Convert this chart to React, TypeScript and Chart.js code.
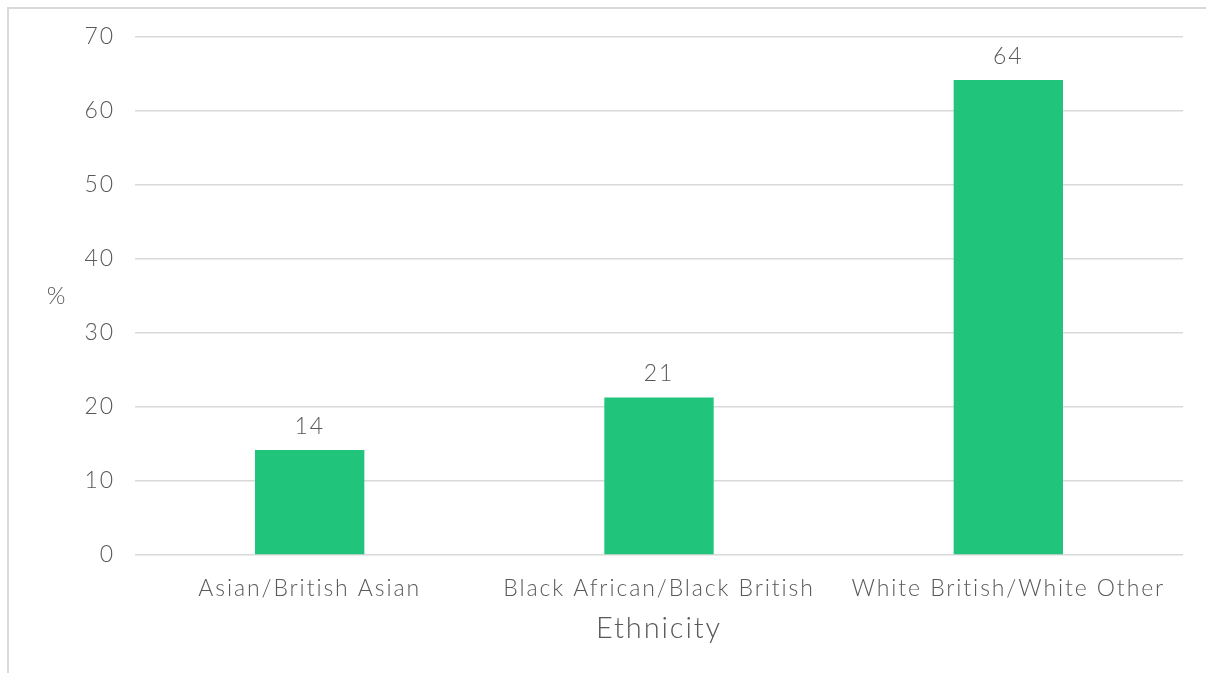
import React, { useEffect, useRef } from "react";
import { Chart, registerables } from "chart.js";

Chart.register(...registerables);

const categories = ["Asian/British Asian", "Black African/Black British", "White British/White Other"];
const values = [14.2, 21.3, 64.2];
const yTitle = "%";
const xTitle = "Ethnicity";

const FONT = "Lato, 'Open Sans', sans-serif";
const TEXT = "#595959";
const GRID = "#d9d9d9";
const BAR = "#20C47A";

const spacingPlugin = {
  id: "spacing",
  beforeLayout(chart: any) {
    chart.ctx.letterSpacing = "1.9px";
  },
  beforeDraw(chart: any) {
    chart.ctx.letterSpacing = "1.9px";
  },
};

const labelPlugin = {
  id: "extras",
  afterDatasetsDraw(chart: any) {
    const ctx = chart.ctx;
    const meta = chart.getDatasetMeta(0);
    ctx.save();
    ctx.fillStyle = TEXT;
    ctx.font = `300 23px ${FONT}`;
    ctx.textAlign = "center";
    ctx.textBaseline = "bottom";
    meta.data.forEach((bar: any, i: number) => {
      ctx.fillText(String(Math.round(values[i])), bar.x, bar.y - 12);
    });
    const ca = chart.chartArea;
    ctx.font = `300 24px ${FONT}`;
    ctx.textBaseline = "middle";
    ctx.fillText(yTitle, 57, (ca.top + ca.bottom) / 2);
    ctx.restore();
  },
};

export default function App() {
  const ref = useRef<HTMLCanvasElement>(null);
  useEffect(() => {
    const chart = new Chart(ref.current!, {
      type: "bar",
      data: {
        labels: categories,
        datasets: [
          {
            data: values,
            backgroundColor: BAR,
            barPercentage: 0.313,
            categoryPercentage: 1,
          },
        ],
      },
      options: {
        animation: false,
        responsive: false,
        maintainAspectRatio: false,
        layout: { padding: { top: 37, right: 23, left: 0, bottom: 0 } },
        plugins: { legend: { display: false }, tooltip: { enabled: false } },
        scales: {
          x: {
            grid: { display: false },
            border: { display: false },
            ticks: {
              color: TEXT,
              font: { family: FONT, size: 23, weight: "300" as any },
              padding: 12,
              maxRotation: 0,
              autoSkip: false,
            },
            title: {
              display: true,
              text: xTitle,
              color: TEXT,
              font: { family: FONT, size: 29, weight: "300" as any },
              padding: { top: 0, bottom: 27 },
            },
            afterFit(scale: any) {
              scale.height = 118;
            },
          },
          y: {
            min: 0,
            max: 70,
            ticks: {
              stepSize: 10,
              color: TEXT,
              font: { family: FONT, size: 23, weight: "300" as any },
              padding: 20,
            },
            grid: { color: GRID, lineWidth: 1.5, drawTicks: false },
            border: { display: false },
            afterFit(scale: any) {
              scale.width = 135;
            },
          },
        },
      },
      plugins: [spacingPlugin, labelPlugin],
    });
    return () => chart.destroy();
  }, []);
  return (
    <div style={{ position: "fixed", left: 0, top: 0, width: 1206, height: 673, background: "#fff" }}>
      <div
        style={{
          position: "absolute",
          left: 7,
          top: 7,
          width: 1210,
          height: 680,
          borderLeft: "2.5px solid #d9d9d9",
          borderTop: "2.5px solid #d9d9d9",
        }}
      />
      <canvas ref={ref} width={1206} height={673} style={{ position: "absolute", left: 0, top: 0 }} />
    </div>
  );
}
